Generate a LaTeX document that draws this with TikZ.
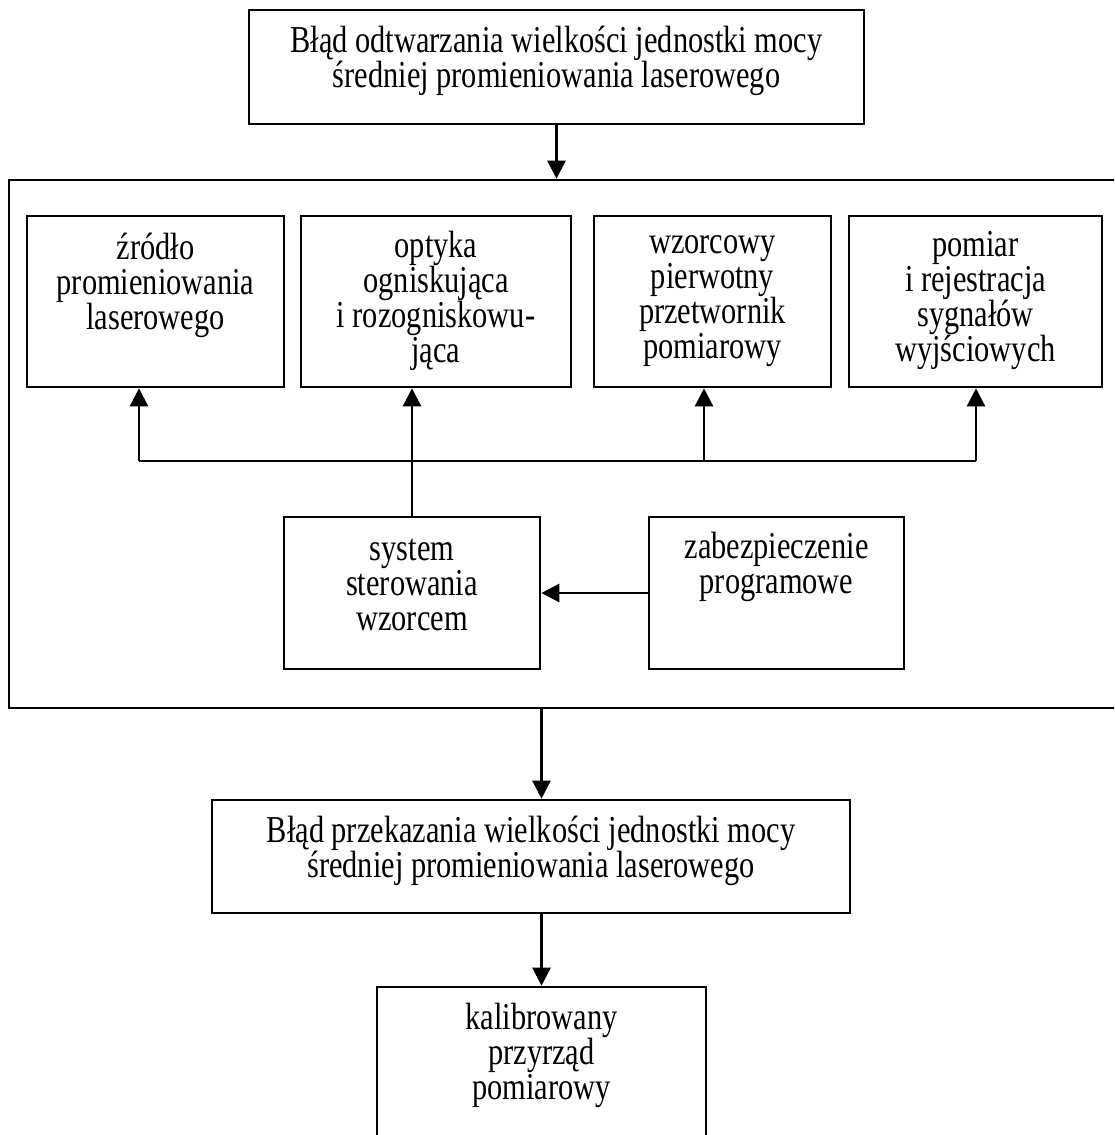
\documentclass[tikz,border=0pt]{standalone}
\usepackage{fontspec}
\setmainfont{Liberation Serif}[FakeStretch=0.8]
\usetikzlibrary{arrows.meta}
\begin{document}
\begin{tikzpicture}[x=1pt,y=-1pt,
  box/.style={draw, line width=2.6pt, inner sep=0pt},
  txt/.style={align=center, inner sep=0pt, font=\fontsize{38}{35}\selectfont},
  conn/.style={line width=2.4pt},
  arr/.style={conn, -{Triangle[length=18pt,width=18pt]}}]
\useasboundingbox (0,0) rectangle (1114,1135);
\clip (0,0) rectangle (1114,1135);
\fill[white] (0,0) rectangle (1114,1135);
% boxes
\node[box, minimum width=615pt, minimum height=114pt] (top) at (556.5,67) {};
\node[box, minimum width=1116pt, minimum height=528pt] (big) at (567,444) {};
\node[box, minimum width=257pt, minimum height=171pt] (s1) at (155.5,301.5) {};
\node[box, minimum width=270pt, minimum height=171pt] (s2) at (436,301.5) {};
\node[box, minimum width=237pt, minimum height=171pt] (s3) at (712.5,301.5) {};
\node[box, minimum width=253pt, minimum height=171pt] (s4) at (975.5,301.5) {};
\node[box, minimum width=256pt, minimum height=152pt] (sys) at (412,593) {};
\node[box, minimum width=255pt, minimum height=152pt] (zab) at (776.5,593) {};
\node[box, minimum width=638pt, minimum height=113pt] (b2) at (531,856.5) {};
\node[box, minimum width=329pt, minimum height=173pt] (b3) at (541.5,1073.5) {};
% texts
\node[txt] (ttop) at (556.5,61) {Błąd odtwarzania wielkości jednostki mocy\\średniej promieniowania laserowego};
\node[txt] (ts1) at (155.5,285) {źródło\\promieniowania\\laserowego};
\node[txt] (ts2) at (436,301) {optyka\\ogniskująca\\i rozogniskowu-\\jąca};
\node[txt] (ts3) at (712.5,301) {wzorcowy\\pierwotny\\przetwornik\\pomiarowy};
\node[txt] (ts4) at (975.5,301) {pomiar\\i rejestracja\\sygnałów\\wyjściowych};
\node[txt] (tsys) at (412,585) {system\\sterowania\\wzorcem};
\node[txt] (tzab) at (776.5,567) {zabezpieczenie\\programowe};
\node[txt] (tb2) at (531,851) {Błąd przekazania wielkości jednostki mocy\\średniej promieniowania laserowego};
\node[txt] (tb3) at (541.5,1055) {kalibrowany\\przyrząd\\pomiarowy};
% connectors
\draw[arr] (top.south) -- (top.south |- big.north);
\coordinate (j1) at (139,461);
\coordinate (j3) at (704,461);
\coordinate (j4) at (976,461);
\draw[conn] (j1) -- (j4);
\draw[arr] (sys.north) -- (sys.north |- s2.south);
\draw[arr] (j1) -- (j1 |- s1.south);
\draw[arr] (j3) -- (j3 |- s3.south);
\draw[arr] (j4) -- (j4 |- s4.south);
\draw[arr] (zab.west) -- (sys.east);
\draw[arr] (big.south -| b3.north) -- (b3.north |- b2.north);
\draw[arr] (b2.south -| b3.north) -- (b3.north);
\end{tikzpicture}
\end{document}
